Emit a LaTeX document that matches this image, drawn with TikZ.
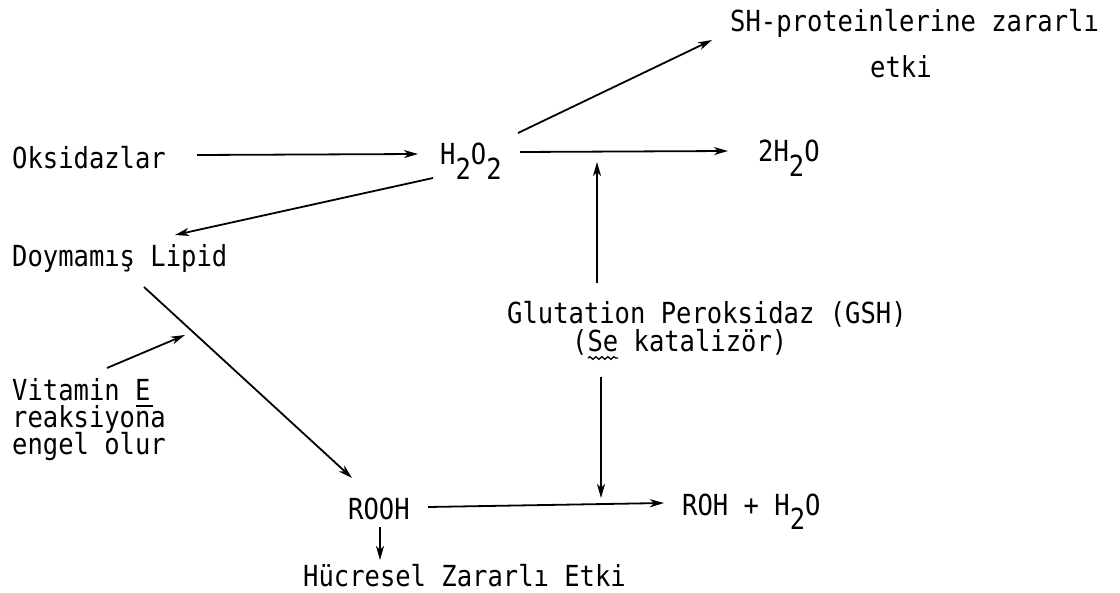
\documentclass[tikz,border=0pt]{standalone}
\usepackage{fontspec}
\newfontfamily\tw{DejaVu Sans Mono}[FakeStretch=0.88]
\usetikzlibrary{arrows.meta,calc,decorations.pathmorphing}
\newcommand\subtw[1]{\raisebox{-0.5em}{#1}}
\begin{document}
\begin{tikzpicture}[x=1pt,y=-1pt,
  lbl/.style={inner sep=0pt, anchor=base west, font=\tw\fontsize{29}{33}\selectfont},
  arr/.style={-{Stealth[length=14pt,width=8pt,inset=4pt]}, line width=1.8pt},
  uline/.style={line width=1.3pt}]
\useasboundingbox[fill=white] (0,0) rectangle (1120,593);
% nodes
\node[lbl] (sh)   at (730,32)  {SH-proteinlerine zararlı};
\node[lbl] (etki) at (870,78)  {etki};
\node[lbl] (oks)  at (12,169)  {Oksidazlar};
\node[lbl] (h2o2) at (440,165) {H\subtw{2}O\subtw{2}};
\node[lbl] (h2o)  at (758,162) {2H\subtw{2}O};
\node[lbl] (doy)  at (12,267)  {Doymamış Lipid};
\node[lbl] (gsh)  at (507,324) {Glutation Peroksidaz (GSH)};
\node[lbl] (se)   at (572,352) {(Se katalizör)};
\node[lbl] (vit1) at (12,401)  {Vitamin E};
\node[lbl] (vit2) at (12,428)  {reaksiyona};
\node[lbl] (vit3) at (12,455)  {engel olur};
\node[lbl] (rooh) at (348,520) {ROOH};
\node[lbl] (roh)  at (682,515) {ROH + H\subtw{2}O};
\node[lbl] (huc)  at (303,586) {Hücresel Zararlı Etki};
% underlines
\draw[uline] ($(vit1.base west)+(124,5)$) -- ($(vit1.base west)+(141,5)$);
\draw[uline, decorate, decoration={snake, amplitude=1.3pt, segment length=6pt}]
  ($(se.base west)+(16,6)$) -- ($(se.base west)+(46,6)$);
% connectors
\draw[arr] ($(oks.base west)+(185,-14)$) -- ($(h2o2.base west)+(-22,-11)$);
\draw[arr] ($(h2o2.base west)+(-7,13)$) -- ($(doy.base west)+(163,-32)$);
\draw[arr] ($(h2o2.base west)+(78,-32)$) -- ($(sh.base west)+(-18,8)$);
\draw[arr] ($(h2o2.base west)+(80,-13)$) -- ($(h2o.base west)+(-30,-11)$);
\coordinate (upend) at ($(h2o2.base west)+(157,-3)$);
\draw[arr] ($(gsh.base west)+(90,-41)$) -- (upend);
\coordinate (downend) at ($(rooh.base west)+(253,-22)$);
\draw[arr] ($(se.base west)+(29,25)$) -- (downend);
\draw[arr] ($(doy.base west)+(132,20)$) -- ($(rooh.base west)+(4,-42)$);
\coordinate (vitend) at (185,335);
\draw[arr] ($(vit1.base west)+(95,-33)$) -- (vitend);
\draw[arr] ($(rooh.base west)+(80,-13)$) -- ($(roh.base west)+(-18,-12)$);
\draw[arr] ($(rooh.base west)+(32,7)$) -- ($(huc.base west)+(77,-26)$);
\end{tikzpicture}
\end{document}
